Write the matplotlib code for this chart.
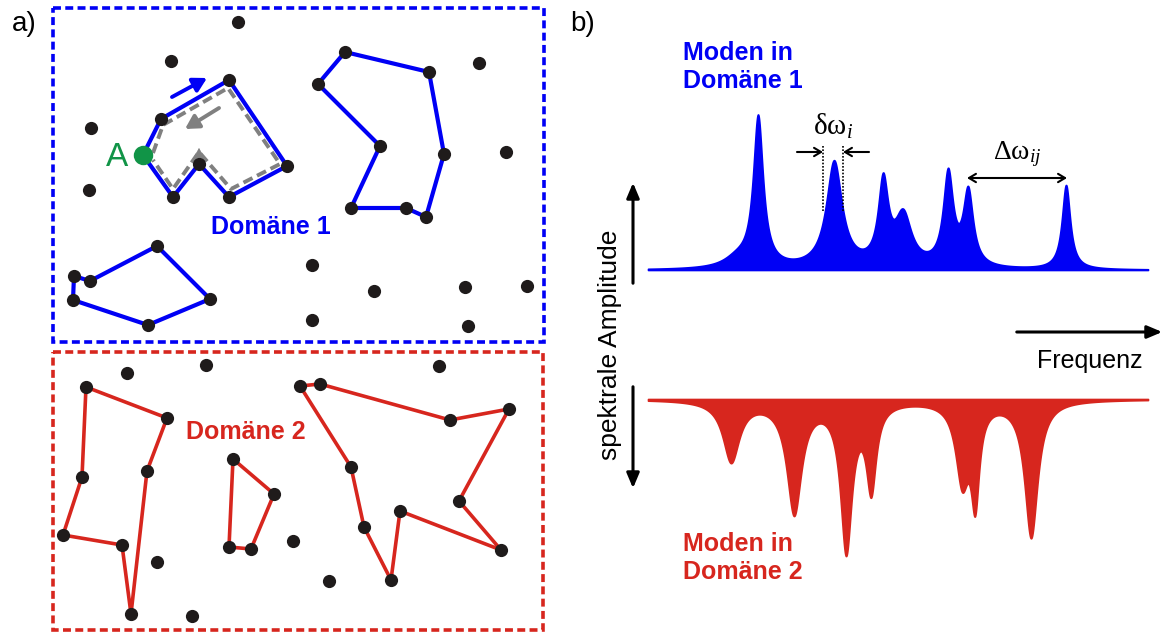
import numpy as np
import matplotlib.pyplot as plt
from matplotlib.patches import Rectangle

plt.rcParams['font.family'] = ['Liberation Sans', 'DejaVu Sans']
plt.rcParams['mathtext.fontset'] = 'custom'
plt.rcParams['mathtext.rm'] = 'Liberation Serif'
plt.rcParams['mathtext.it'] = 'Liberation Serif:italic'

BLUE = '#0000f5'
RED = '#d7261e'
DOT = '#1f1b1b'
GREEN = '#119447'
GREY = '#808080'

# --- Teil a): Punkte und Pfade in den beiden Domänen (Bildkoordinaten) ---
dom1_pfade = [
    [(143, 155), (161, 119), (229, 80), (287, 166), (229, 197), (199, 164), (173, 197), (143, 155)],
    [(345, 52), (429, 72), (444, 154), (426, 217), (406, 208), (351, 208), (380, 146), (318, 84), (345, 52)],
    [(74, 276), (90, 281), (157, 246), (210, 299), (148, 325), (73, 300), (74, 276)],
]
dom1_punkte = [(238, 22), (171, 61), (91, 128), (89, 190), (479, 63), (506, 152),
               (312, 265), (374, 291), (465, 287), (527, 286), (312, 320), (468, 326)]
grau_pfad = [(153, 153), (163, 125), (228, 88), (280, 164), (231, 189), (199, 152), (173, 189), (153, 160)]

dom2_pfade = [
    [(86, 387), (167, 418), (147, 471), (131, 614), (122, 545), (63, 535), (82, 477), (86, 387)],
    [(233, 459), (274, 494), (251, 549), (229, 547), (233, 459)],
    [(300, 386), (320, 384), (450, 420), (509, 409), (459, 501), (501, 550), (400, 511),
     (391, 580), (364, 527), (351, 467), (300, 386)],
]
dom2_punkte = [(127, 373), (206, 365), (157, 562), (192, 616), (293, 541), (439, 366), (329, 581)]

punkt_A = (143, 155)

# --- Teil b): Moden als Lorentz-Linien (Frequenz, Amplitude, Halbwertsbreite) ---
moden1_freq = [737, 758, 834, 883, 903, 948, 968, 1066]
moden1_amp = [9, 150, 106, 82, 50, 92, 74, 84]
moden1_breite = [16, 6, 9.5, 6, 10, 6, 6, 5]

moden2_freq = [731, 794, 846, 871, 962, 975, 1031]
moden2_amp = [61, 112, 148, 85, 78, 92, 137]
moden2_breite = [10, 9, 7, 6, 8, 5, 8]

f_start, f_ende = 648, 1148
basis1, basis2 = 270, 399


def spektrum(f, freq, amp, breite):
    s = np.zeros_like(f)
    for f0, a, g in zip(freq, amp, breite):
        s += a * g**2 / (g**2 + (f - f0)**2)
    return s


fig = plt.figure(figsize=(11.65, 6.33), dpi=100)
ax = fig.add_axes([0, 0, 1, 1])
ax.set_xlim(0, 1165)
ax.set_ylim(633, 0)
ax.axis('off')

# Rahmen der Domänen
ax.add_patch(Rectangle((53, 8), 491, 334, fill=False, ec=BLUE, lw=2.6, ls=(0, (2.2, 1.2))))
ax.add_patch(Rectangle((53, 352), 490, 278, fill=False, ec=RED, lw=2.6, ls=(0, (2.2, 1.2))))

for p in dom1_pfade:
    xs, ys = zip(*p)
    ax.plot(xs, ys, color=BLUE, lw=3, solid_joinstyle='round', zorder=2)
for p in dom2_pfade:
    xs, ys = zip(*p)
    ax.plot(xs, ys, color=RED, lw=2.6, solid_joinstyle='round', zorder=2)

# Umlauf ab Punkt A
xs, ys = zip(*grau_pfad)
ax.plot(xs, ys, color=GREY, lw=2.8, ls=(0, (2.6, 1.3)), zorder=3)
ax.annotate('', xy=(185, 129), xytext=(219, 108),
            arrowprops=dict(arrowstyle='-|>,head_length=0.8,head_width=0.45', color=GREY, lw=2.8,
                            shrinkA=0, shrinkB=0))
ax.annotate('', xy=(199, 148), xytext=(199, 156),
            arrowprops=dict(arrowstyle='-|>,head_length=0.7,head_width=0.4', color=GREY, lw=0.5,
                            shrinkA=0, shrinkB=0), zorder=3)
ax.annotate('', xy=(207, 78), xytext=(172, 97),
            arrowprops=dict(arrowstyle='-|>,head_length=0.8,head_width=0.45', color=BLUE, lw=2.8,
                            shrinkA=0, shrinkB=0))

alle = [pt for p in dom1_pfade + dom2_pfade for pt in p[:-1]] + dom1_punkte + dom2_punkte
xs, ys = zip(*alle)
ax.plot(xs, ys, 'o', color=DOT, ms=9.5, mew=0, zorder=4)
ax.plot(*punkt_A, 'o', color=GREEN, ms=14, mew=0, zorder=5)
ax.text(117, 158, 'A', color=GREEN, fontsize=24, ha='center', va='center')

ax.text(271, 227, 'Domäne 1', color=BLUE, fontsize=18, fontweight='bold', ha='center', va='center')
ax.text(246, 432, 'Domäne 2', color=RED, fontsize=18, fontweight='bold', ha='center', va='center')
ax.text(24, 24, 'a)', fontsize=20, ha='center', va='center')

# Spektren
f = np.linspace(f_start, f_ende, 3000)
s1 = spektrum(f, moden1_freq, moden1_amp, moden1_breite)
s2 = spektrum(f, moden2_freq, moden2_amp, moden2_breite)
ax.fill_between(f, basis1, basis1 - s1, color=BLUE, lw=1.2, ec=BLUE)
ax.fill_between(f, basis2, basis2 + s2, color=RED, lw=1.2, ec=RED)

# Achsenpfeile
pfeil = dict(arrowstyle='-|>,head_length=0.9,head_width=0.38', color='black', lw=2.2)
ax.annotate('', xy=(633, 180), xytext=(633, 286), arrowprops=pfeil)
ax.annotate('', xy=(633, 491), xytext=(633, 384), arrowprops=pfeil)
ax.annotate('', xy=(1165, 332), xytext=(1014, 332), arrowprops=pfeil)
ax.text(610, 345, 'spektrale Amplitude', fontsize=19, rotation=90, ha='center', va='center')
ax.text(1090, 361, 'Frequenz', fontsize=18, ha='center', va='center')

# Linienbreite und Modenabstand
ax.plot([823, 823], [146, 212], color='black', lw=1.2, ls=(0, (1, 1)))
ax.plot([843, 843], [146, 212], color='black', lw=1.2, ls=(0, (1, 1)))
klein = dict(arrowstyle='->,head_length=0.5,head_width=0.3', color='black', lw=1.5,
             shrinkA=0, shrinkB=0)
ax.annotate('', xy=(823, 152), xytext=(797, 152), arrowprops=klein)
ax.annotate('', xy=(843, 152), xytext=(869, 152), arrowprops=klein)
ax.text(833, 126, r'$\mathrm{\delta\omega}_i$', fontsize=21, ha='center', va='center')
ax.annotate('', xy=(1067, 178), xytext=(967, 178),
            arrowprops=dict(arrowstyle='<->,head_length=0.5,head_width=0.3', color='black',
                            lw=1.5, shrinkA=0, shrinkB=0))
ax.text(1017, 154, r'$\mathrm{\Delta\omega}_{ij}$', fontsize=20, ha='center', va='center')

ax.text(683, 67, 'Moden in\nDomäne 1', color=BLUE, fontsize=18, fontweight='bold',
        ha='left', va='center', linespacing=1.25)
ax.text(683, 558, 'Moden in\nDomäne 2', color=RED, fontsize=18, fontweight='bold',
        ha='left', va='center', linespacing=1.25)
ax.text(583, 24, 'b)', fontsize=20, ha='center', va='center')

fig.savefig('out.png', dpi=100)
